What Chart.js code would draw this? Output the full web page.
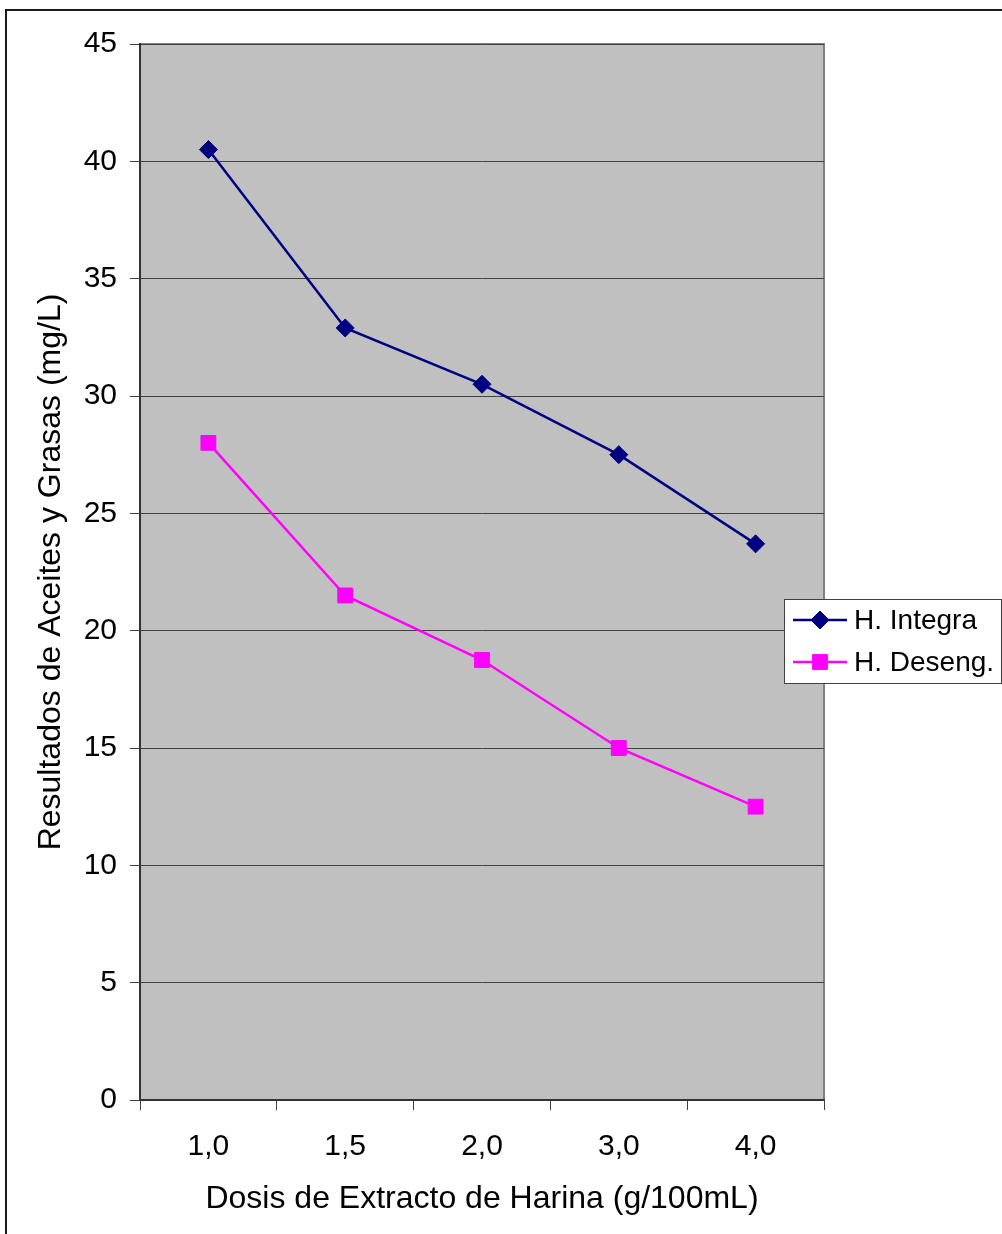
<!DOCTYPE html>
<html>
<head>
<meta charset="utf-8">
<style>
  html, body { margin: 0; padding: 0; background: #ffffff; }
  #wrap { position: relative; width: 1002px; height: 1234px; }
  canvas { display: block; }
</style>
<script src="https://cdn.jsdelivr.net/npm/chart.js@4/dist/chart.umd.min.js"></script>
</head>
<body>
<div id="wrap"><canvas id="c" width="1002" height="1234"></canvas></div>
<script>
// Dose of flour extract (g/100mL)
const categories = ['1,0', '1,5', '2,0', '3,0', '4,0'];
// Oil and grease results (mg/L)
const integraValues = [40.5, 32.9, 30.5, 27.5, 23.7];
const desengValues  = [28.0, 21.5, 18.75, 15.0, 12.5];
const seriesNames = ['H. Integra', 'H. Deseng.'];
const yTicks = [0, 5, 10, 15, 20, 25, 30, 35, 40, 45];

const FONT = '"Liberation Sans", Arial, sans-serif';

// Gray plot background, frame and outer chart border
const framePlugin = {
  id: 'frame',
  beforeDraw(chart) {
    const { ctx, chartArea: a } = chart;
    ctx.save();
    ctx.fillStyle = '#c0c0c0';
    ctx.fillRect(a.left, a.top, a.right - a.left, a.bottom - a.top);
    ctx.strokeStyle = '#808080';
    ctx.lineWidth = 2;
    ctx.beginPath();
    ctx.moveTo(a.left, a.top);
    ctx.lineTo(a.right, a.top);
    ctx.lineTo(a.right, a.bottom);
    ctx.stroke();
    // outer chart border
    ctx.strokeStyle = '#1a1a1a';
    ctx.lineWidth = 2;
    ctx.strokeRect(6, 10, 1200, 1400);
    ctx.restore();
  }
};

// Boxed legend at the right edge, overlapping the plot frame
const legendPlugin = {
  id: 'boxLegend',
  afterDraw(chart) {
    const { ctx } = chart;
    const box = { x: 784, y: 599, w: 217, h: 84 };
    ctx.save();
    ctx.fillStyle = '#ffffff';
    ctx.fillRect(box.x, box.y, box.w, box.h);
    ctx.strokeStyle = '#404040';
    ctx.lineWidth = 1;
    ctx.strokeRect(box.x + 0.5, box.y + 0.5, box.w, box.h);
    const rows = [620, 662];
    chart.data.datasets.forEach((ds, i) => {
      const y = rows[i];
      ctx.strokeStyle = ds.borderColor;
      ctx.lineWidth = ds.borderWidth;
      ctx.beginPath();
      ctx.moveTo(793, y);
      ctx.lineTo(847, y);
      ctx.stroke();
      ctx.fillStyle = ds.pointBackgroundColor;
      ctx.strokeStyle = ds.pointBorderColor;
      ctx.lineWidth = ds.pointBorderWidth;
      Chart.helpers.drawPoint(ctx, {
        pointStyle: ds.pointStyle,
        radius: ds.pointRadius,
        borderWidth: ds.pointBorderWidth,
        rotation: 0
      }, 820, y);
      ctx.fillStyle = '#000000';
      ctx.font = '28px ' + FONT;
      ctx.textBaseline = 'middle';
      ctx.textAlign = 'left';
      ctx.fillText(ds.label, 854, y + 1);
    });
    ctx.restore();
  }
};

const ctxEl = document.getElementById('c');
new Chart(ctxEl, {
  type: 'line',
  data: {
    labels: categories,
    datasets: [
      {
        label: seriesNames[0],
        data: integraValues,
        borderColor: '#000080',
        backgroundColor: '#000080',
        borderWidth: 2.5,
        pointStyle: 'rectRot',
        pointRadius: 9,
        pointBorderWidth: 1,
        pointBorderColor: '#000080',
        pointBackgroundColor: '#000080',
        tension: 0
      },
      {
        label: seriesNames[1],
        data: desengValues,
        borderColor: '#ff00ff',
        backgroundColor: '#ff00ff',
        borderWidth: 2.5,
        pointStyle: 'rect',
        pointRadius: 10.5,
        pointBorderWidth: 1,
        pointBorderColor: '#ff00ff',
        pointBackgroundColor: '#ff00ff',
        tension: 0
      }
    ]
  },
  options: {
    responsive: false,
    animation: false,
    devicePixelRatio: 1,
    layout: { padding: { left: 0, right: 178, top: 44, bottom: 0 } },
    plugins: {
      legend: { display: false },
      tooltip: { enabled: false }
    },
    scales: {
      x: {
        type: 'category',
        offset: true,
        afterFit(scale) { scale.height = 134; },
        grid: {
          offset: true,
          drawOnChartArea: false,
          drawTicks: true,
          tickLength: 10,
          tickColor: '#404040',
          tickWidth: 1
        },
        border: { display: true, color: '#333333', width: 2 },
        ticks: {
          color: '#000000',
          font: { family: FONT, size: 30 },
          padding: 19,
          maxRotation: 0
        },
        title: {
          display: true,
          text: 'Dosis de Extracto de Harina (g/100mL)',
          color: '#000000',
          font: { family: FONT, size: 32 },
          padding: { top: 0, bottom: 16 }
        }
      },
      y: {
        min: 0,
        max: 45,
        afterFit(scale) { scale.width = 140; },
        afterBuildTicks(scale) { scale.ticks = yTicks.map(v => ({ value: v })); },
        grid: {
          color: '#404040',
          lineWidth: 1,
          tickLength: 10,
          tickColor: '#404040',
          drawTicks: true
        },
        border: { display: true, color: '#333333', width: 2 },
        ticks: {
          color: '#000000',
          font: { family: FONT, size: 30 },
          padding: 13
        },
        title: {
          display: true,
          text: 'Resultados de Aceites y Grasas (mg/L)',
          color: '#000000',
          font: { family: FONT, size: 32 },
          padding: { top: 32, bottom: 0 }
        }
      }
    }
  },
  plugins: [framePlugin, legendPlugin]
});
</script>
</body>
</html>
